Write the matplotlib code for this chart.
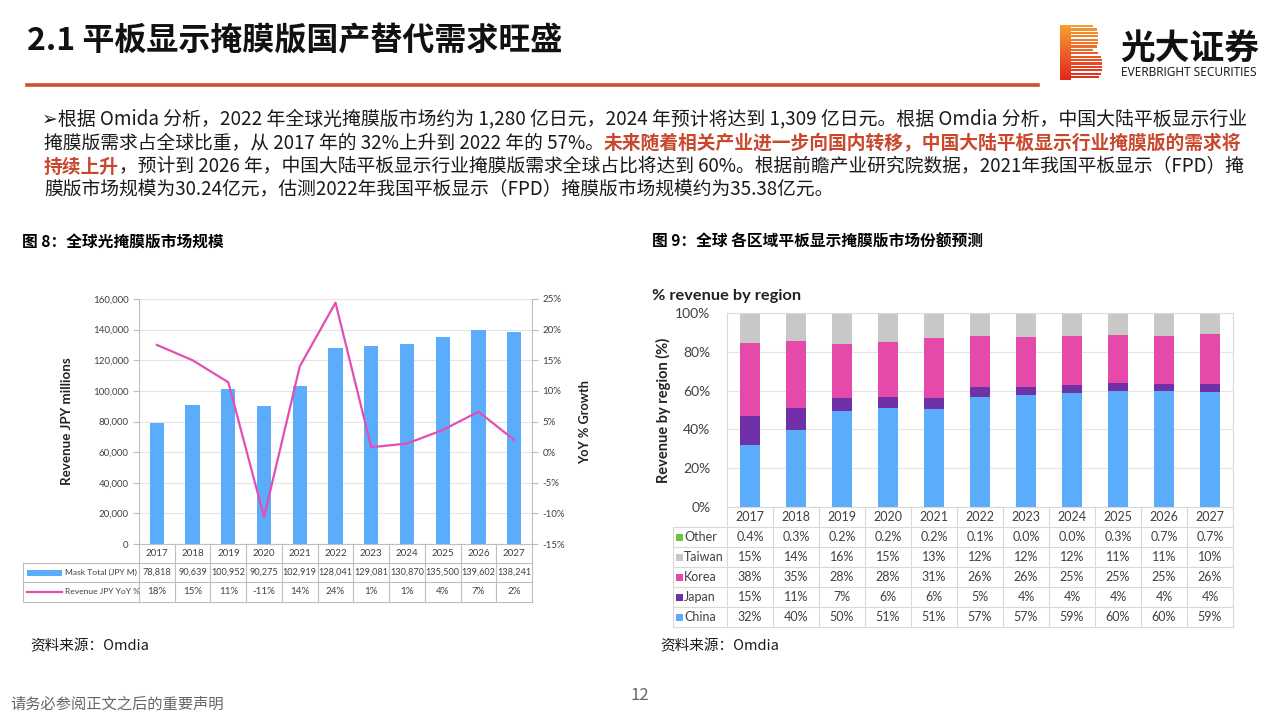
import matplotlib
matplotlib.use("Agg")
import matplotlib.pyplot as plt
import matplotlib.transforms as mtransforms
from matplotlib.patches import Rectangle
from matplotlib.ticker import FuncFormatter
import numpy as np

plt.rcParams['font.family'] = ['Noto Sans CJK SC', 'DejaVu Sans']

W, H = 1280, 720

# ---- data: global photomask market ----
years = ['2017', '2018', '2019', '2020', '2021', '2022', '2023', '2024', '2025', '2026', '2027']
mask_total = [78818, 90639, 100952, 90275, 102919, 128041, 129081, 130870, 135500, 139602, 138241]
yoy_line = [17.5, 15.0, 11.4, -10.6, 14.0, 24.4, 0.8, 1.4, 3.6, 6.6, 2.0]
yoy_labels = ['18%', '15%', '11%', '-11%', '14%', '24%', '1%', '1%', '4%', '7%', '2%']

# ---- data: share by region ----
regions = ['China', 'Japan', 'Korea', 'Taiwan', 'Other']
china = [32, 40, 50, 51, 51, 57, 57, 59, 60, 60, 59]
japan = [15, 11, 7, 6, 6, 5, 4, 4, 4, 4, 4]
korea = [38, 35, 28, 28, 31, 26, 26, 25, 25, 25, 26]
taiwan = [15, 14, 16, 15, 13, 12, 12, 12, 11, 11, 10]
other = [0.4, 0.3, 0.2, 0.2, 0.2, 0.1, 0.0, 0.0, 0.3, 0.7, 0.7]
other_labels = ['0.4%', '0.3%', '0.2%', '0.2%', '0.2%', '0.1%', '0.0%', '0.0%', '0.3%', '0.7%', '0.7%']

BLUE = '#5badfb'
PINK = '#e24fb4'
region_colors = {'China': '#5badfb', 'Japan': '#7030a8', 'Korea': '#e54aab',
                 'Taiwan': '#c8c8c8', 'Other': '#72c23e'}
TXT = '#404040'
GRID = '#e4e4e4'
LINE = '#bfbfbf'
LAT = ['Lato', 'DejaVu Sans']


def fx(x):
    return x / W


def fy(y):
    return 1 - y / H


def px_axes(x0, y0, x1, y1):
    return fig.add_axes([fx(x0), fy(y1), (x1 - x0) / W, (y1 - y0) / H])


fig = plt.figure(figsize=(12.8, 7.2), dpi=100)
renderer = fig.canvas.get_renderer()

# ---- header ----
fig.text(fx(27), fy(41), '2.1 平板显示掩膜版国产替代需求旺盛', fontsize=23, fontweight='bold',
         va='center', ha='left', color='#111111')
fig.add_artist(plt.Line2D([fx(27), fx(1038)], [fy(85), fy(85)], color='#c9532f', lw=2.6))

# logo
lax = px_axes(1058, 22, 1104, 82)
lax.set_xlim(0, 46)
lax.set_ylim(60, 0)
lax.axis('off')
cm = matplotlib.colors.LinearSegmentedColormap.from_list('lg', ['#f5a031', '#e3261f'])
grad = np.linspace(0, 1, 100).reshape(-1, 1)
lax.imshow(grad, cmap=cm, extent=(2, 13, 58, 3), aspect='auto')
for yy in np.arange(3, 56, 3.4):
    if yy < 29:
        c, h, r = 16, 14.0, 27
    else:
        c, h, r = 43.5, 15.0, 31
    t = min(1.0, abs((yy + 1.1 - c) / h))
    ext = 13 + r * (1 - t ** 4) ** 0.25
    lax.add_patch(Rectangle((12.5, yy), ext - 12.5, 2.2, color=cm(yy / 57), lw=0))
fig.text(fx(1120), fy(48), '光大证券', fontsize=25, fontweight='bold', va='center', ha='left',
         color='#111111')
fig.text(fx(1121), fy(72), 'EVERBRIGHT SECURITIES', fontsize=8.6, va='center', ha='left',
         color='#111111', family=['Open Sans', 'DejaVu Sans'])


# ---- body paragraph ----
def put_line(x, y, segs, size=13.5):
    for s, red in segs:
        t = fig.text(fx(x), fy(y), s, fontsize=size, va='center', ha='left',
                     color='#c9472d' if red else '#1a1a1a',
                     fontweight='bold' if red else 'normal',
                     family=['Noto Sans CJK SC', 'DejaVu Sans'])
        x = t.get_window_extent(renderer).x1


put_line(42, 119, [('➢根据 Omida 分析，2022 年全球光掩膜版市场约为 1,280 亿日元，2024 年预计将达到 1,309 亿日元。根据 Omdia 分析，中国大陆平板显示行业', False)], size=13.6)
put_line(44, 143, [('掩膜版需求占全球比重，从 2017 年的 32%上升到 2022 年的 57%。', False),
                   ('未来随着相关产业进一步向国内转移，中国大陆平板显示行业掩膜版的需求将', True)])
put_line(44, 167, [('持续上升', True),
                   ('，预计到 2026 年，中国大陆平板显示行业掩膜版需求全球占比将达到 60%。根据前瞻产业研究院数据，2021年我国平板显示（FPD）掩', False)])
put_line(44, 190, [('膜版市场规模为30.24亿元，估测2022年我国平板显示（FPD）掩膜版市场规模约为35.38亿元。', False)])

fig.text(fx(22), fy(242), '图 8：全球光掩膜版市场规模', fontsize=11.3, fontweight='bold', va='center')
fig.text(fx(652), fy(242), '图 9：全球 各区域平板显示掩膜版市场份额预测', fontsize=11.3, fontweight='bold', va='center')

# ---- left chart ----
ax1 = px_axes(139, 299, 532, 544)
x = np.arange(len(years))
ax1.bar(x, mask_total, width=0.4, color=BLUE, zorder=2)
ax1.set_xlim(-0.5, len(years) - 0.5)
ax1.set_ylim(0, 160000)
ax1.set_yticks(np.arange(0, 160001, 20000))
ax1.yaxis.set_major_formatter(FuncFormatter(lambda v, p: f'{int(v):,}'))
ax1.grid(axis='y', color=GRID, lw=0.8, zorder=0)
ax1.set_xticks([])
for s in ['top', 'right', 'bottom']:
    ax1.spines[s].set_visible(False)
ax1.spines['left'].set_color(LINE)
ax1.tick_params(axis='y', colors=LINE, labelcolor=TXT, labelsize=7.0, length=4, width=0.8)
for lab in ax1.get_yticklabels():
    lab.set_family(LAT)
ax1.set_ylabel('Revenue JPY millions', fontsize=9.6, fontweight='bold', color='#222222',
               family=LAT, labelpad=14)

ax2 = ax1.twinx()
ax2.plot(x, yoy_line, color=PINK, lw=1.6, zorder=3)
ax2.set_ylim(-15, 25)
ax2.set_yticks(np.arange(-15, 26, 5))
ax2.yaxis.set_major_formatter(FuncFormatter(lambda v, p: f'{int(v)}%'))
for s in ['top', 'left', 'bottom']:
    ax2.spines[s].set_visible(False)
ax2.spines['right'].set_color(LINE)
ax2.tick_params(axis='y', colors=LINE, labelcolor=TXT, labelsize=7.0, length=4, width=0.8)
for lab in ax2.get_yticklabels():
    lab.set_family(LAT)
ax2.set_ylabel('YoY % Growth', fontsize=9.2, fontweight='bold', color='#222222',
               family=LAT, labelpad=10)

# table under left chart
tr1 = mtransforms.blended_transform_factory(ax1.transData, ax1.transAxes)
ah1 = 245.0
rows1 = [0, -19 / ah1, -38 / ah1, -58 / ah1]
left1 = (23 - 139) / 393.0
n = len(years)
for i in range(n + 1):
    ax1.plot([i - 0.5, i - 0.5], [0, rows1[-1]], color=LINE, lw=0.8, transform=tr1, clip_on=False)
ax1.plot([0, 1], [0, 0], color=LINE, lw=0.8, transform=ax1.transAxes, clip_on=False)
for r in rows1[1:]:
    ax1.plot([left1, 1], [r, r], color=LINE, lw=0.8, transform=ax1.transAxes, clip_on=False)
ax1.plot([left1, left1], [rows1[1], rows1[-1]], color=LINE, lw=0.8, transform=ax1.transAxes, clip_on=False)
for i in range(n):
    ax1.text(i, (rows1[0] + rows1[1]) / 2, years[i], transform=tr1, ha='center', va='center',
             fontsize=7.0, color=TXT, family=LAT)
    ax1.text(i, (rows1[1] + rows1[2]) / 2, f'{mask_total[i]:,}', transform=tr1, ha='center',
             va='center', fontsize=6.6, color=TXT, family=LAT)
    ax1.text(i, (rows1[2] + rows1[3]) / 2, yoy_labels[i], transform=tr1, ha='center',
             va='center', fontsize=7.0, color=TXT, family=LAT)
sw0, sw1 = (27 - 139) / 393.0, (62 - 139) / 393.0
ym = (rows1[1] + rows1[2]) / 2
ax1.add_patch(Rectangle((sw0, ym - 3 / ah1), sw1 - sw0, 6 / ah1, transform=ax1.transAxes,
                        color=BLUE, clip_on=False, lw=0))
ax1.text((65 - 139) / 393.0, ym, 'Mask Total (JPY M)', transform=ax1.transAxes, ha='left',
         va='center', fontsize=6.1, color=TXT, family=LAT)
ym = (rows1[2] + rows1[3]) / 2
ax1.plot([sw0, sw1], [ym, ym], color=PINK, lw=1.6, transform=ax1.transAxes, clip_on=False)
ax1.text((65 - 139) / 393.0, ym, 'Revenue JPY YoY %', transform=ax1.transAxes, ha='left',
         va='center', fontsize=6.1, color=TXT, family=LAT)

# ---- right chart (100% stacked) ----
ax3 = px_axes(727, 313, 1233, 507)
series = {'China': china, 'Japan': japan, 'Korea': korea, 'Taiwan': taiwan, 'Other': other}
totals = np.sum([series[k] for k in regions], axis=0)
bottom = np.zeros(n)
for name in regions:
    vals = np.array(series[name], dtype=float) / totals * 100
    ax3.bar(x, vals, bottom=bottom, width=0.42, color=region_colors[name], zorder=2)
    bottom += vals
ax3.set_xlim(-0.5, n - 0.5)
ax3.set_ylim(0, 100)
ax3.set_yticks(np.arange(0, 101, 20))
ax3.yaxis.set_major_formatter(FuncFormatter(lambda v, p: f'{int(v)}%'))
ax3.grid(axis='y', color=GRID, lw=0.8, zorder=0)
ax3.set_xticks([])
for s in ax3.spines.values():
    s.set_color('#d9d9d9')
    s.set_linewidth(0.8)
ax3.tick_params(axis='y', length=0, labelcolor=TXT, labelsize=10, pad=12)
for lab in ax3.get_yticklabels():
    lab.set_family(LAT)
ax3.set_ylabel('Revenue by region (%)', fontsize=10.5, fontweight='bold', color='#222222',
               family=LAT, labelpad=3)
fig.text(fx(652), fy(296), '% revenue by region', fontsize=11.8, fontweight='bold',
         color='#222222', va='center', family=LAT)

tr3 = mtransforms.blended_transform_factory(ax3.transData, ax3.transAxes)
ah3 = 194.0
rows3 = [-(k * 20) / ah3 for k in range(7)]
left3 = (673 - 727) / 506.0
for i in range(n + 1):
    ax3.plot([i - 0.5, i - 0.5], [0, rows3[-1]], color='#d9d9d9', lw=0.8, transform=tr3, clip_on=False)
for r in rows3[1:]:
    ax3.plot([left3, 1], [r, r], color='#d9d9d9', lw=0.8, transform=ax3.transAxes, clip_on=False)
ax3.plot([left3, left3], [rows3[1], rows3[-1]], color='#d9d9d9', lw=0.8, transform=ax3.transAxes,
         clip_on=False)
table_rows = [('Other', other_labels),
              ('Taiwan', [f'{v}%' for v in taiwan]),
              ('Korea', [f'{v}%' for v in korea]),
              ('Japan', [f'{v}%' for v in japan]),
              ('China', [f'{v}%' for v in china])]
for i in range(n):
    ax3.text(i, (rows3[0] + rows3[1]) / 2, years[i], transform=tr3, ha='center', va='center',
             fontsize=9, color=TXT, family=LAT)
for k, (name, labs) in enumerate(table_rows):
    ym = (rows3[k + 1] + rows3[k + 2]) / 2
    for i in range(n):
        ax3.text(i, ym, labs[i], transform=tr3, ha='center', va='center', fontsize=9,
                 color=TXT, family=LAT)
    ax3.add_patch(Rectangle(((676 - 727) / 506.0, ym - 3.5 / ah3), 7 / 506.0, 7 / ah3,
                            transform=ax3.transAxes, color=region_colors[name], clip_on=False, lw=0))
    ax3.text((684 - 727) / 506.0, ym, name, transform=ax3.transAxes, ha='left', va='center',
             fontsize=9, color=TXT, family=LAT)

# ---- footer ----
fig.text(fx(30), fy(646), '资料来源：Omdia', fontsize=10.5, va='center', color='#1a1a1a')
fig.text(fx(660), fy(646), '资料来源：Omdia', fontsize=10.5, va='center', color='#1a1a1a')
fig.text(fx(10), fy(704), '请务必参阅正文之后的重要声明', fontsize=11, va='center', color='#666666')
fig.text(fx(640), fy(695), '12', fontsize=12, va='center', ha='center', color='#666666')

fig.savefig('out.png', dpi=100)
